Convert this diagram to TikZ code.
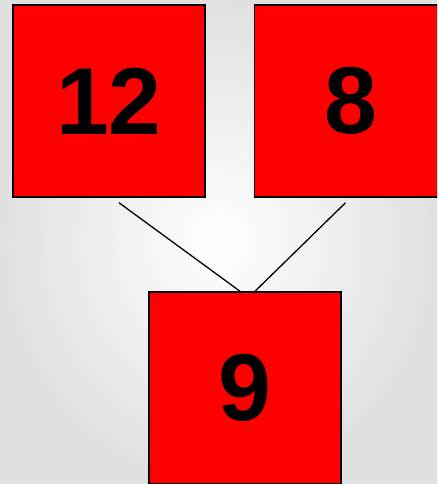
\documentclass[tikz,border=0pt]{standalone}
\usepackage{fontspec}
\setsansfont{Liberation Sans}
\begin{document}
\begin{tikzpicture}[
    x=1pt, y=-1pt,
    every node/.style={font=\sffamily\bfseries},
    numbox/.style={rectangle, draw=black, line width=1.5pt, fill=red, minimum size=192pt, inner sep=0pt, align=center, font=\sffamily\bfseries\fontsize{95}{95}\selectfont},
    link/.style={draw=black, line width=1.3pt}
]

\clip (0,0) rectangle (437,484);
\shade[inner color=white, outer color=black!12] (0,0) rectangle (437,484);

\node[numbox] (n12) at (109,101) {12};
\node[numbox] (n8) at (350.5,101) {8};
\node[numbox] (n9) at (245,388) {9};

\draw[link] ([xshift=10pt, yshift=-5pt]n12.south) -- ([xshift=-5pt]n9.north);
\draw[link] ([xshift=-5pt, yshift=-5pt]n8.south) -- ([xshift=10pt]n9.north);

\end{tikzpicture}
\end{document}
